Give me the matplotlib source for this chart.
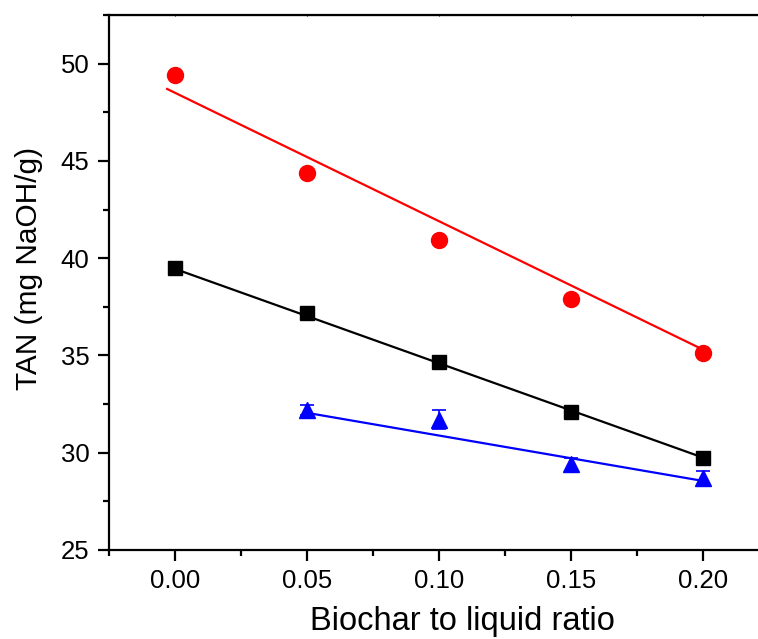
import matplotlib.pyplot as plt

plt.rcParams['font.family'] = ['Liberation Sans', 'DejaVu Sans']

# data
ratio = [0.00, 0.05, 0.10, 0.15, 0.20]
tan_red = [49.4, 44.4, 40.95, 37.9, 35.15]
tan_black = [39.5, 37.2, 34.67, 32.1, 29.75]
ratio_blue = [0.05, 0.10, 0.15, 0.20]
tan_blue = [32.2, 31.7, 29.4, 28.7]
err_red = [0.1, 0.1, 0.1, 0.1, 0.1]
err_black = [0.1, 0.1, 0.1, 0.1, 0.1]
err_blue = [0.25, 0.5, 0.35, 0.35]

# linear fit lines (end points)
fit_red_x = [-0.003, 0.20]
fit_red_y = [48.7, 35.3]
fit_black_x = [0.00, 0.20]
fit_black_y = [39.45, 29.75]
fit_blue_x = [0.05, 0.20]
fit_blue_y = [32.05, 28.55]


def main():
    fig = plt.figure(figsize=(7.58, 6.39), dpi=100)
    ax = fig.add_axes([0.1438, 0.1393, 0.8707, 0.8372])

    series = [
        (ratio, tan_red, err_red, fit_red_x, fit_red_y, 'red', 'o', 11.5),
        (ratio, tan_black, err_black, fit_black_x, fit_black_y, 'black', 's', 9.5),
        (ratio_blue, tan_blue, err_blue, fit_blue_x, fit_blue_y, 'blue', '^', 11.5),
    ]
    for x, y, e, fx, fy, c, m, ms in series:
        ax.errorbar(x, y, yerr=e, fmt=m, color=c, ms=ms, capsize=5,
                    elinewidth=1.2, capthick=1.2, zorder=3)
        ax.plot(fx, fy, color=c, lw=1.6, zorder=2)

    ax.set_xlim(-0.025, 0.225)
    ax.set_ylim(25, 52.5)
    ax.set_xticks([0.0, 0.05, 0.10, 0.15, 0.20])
    ax.set_xticks([-0.025, 0.025, 0.075, 0.125, 0.175, 0.225], minor=True)
    ax.set_yticks([25, 30, 35, 40, 45, 50])
    ax.set_yticks([27.5, 32.5, 37.5, 42.5, 47.5, 52.5], minor=True)
    ax.set_xticklabels(['0.00', '0.05', '0.10', '0.15', '0.20'])

    for s in ax.spines.values():
        s.set_linewidth(1.6)

    ax.tick_params(axis='both', which='major', direction='out', length=8,
                   width=1.6, labelsize=18.5, pad=6)
    ax.tick_params(axis='both', which='minor', direction='out', length=4.5,
                   width=1.6)
    # tiny marks on the top spine
    ax.secondary_xaxis('top').tick_params(which='both', direction='inout',
                                          length=2, width=0.8, labeltop=False)

    ax.set_xlabel('Biochar to liquid ratio', fontsize=23.5, va='top')
    ax.xaxis.set_label_coords(0.536, -0.104)
    ax.set_ylabel('TAN (mg NaOH/g)', fontsize=21.5, va='center')
    ax.yaxis.set_label_coords(-0.121, 0.527)

    fig.savefig('out.png', dpi=100)


if __name__ == '__main__':
    main()
